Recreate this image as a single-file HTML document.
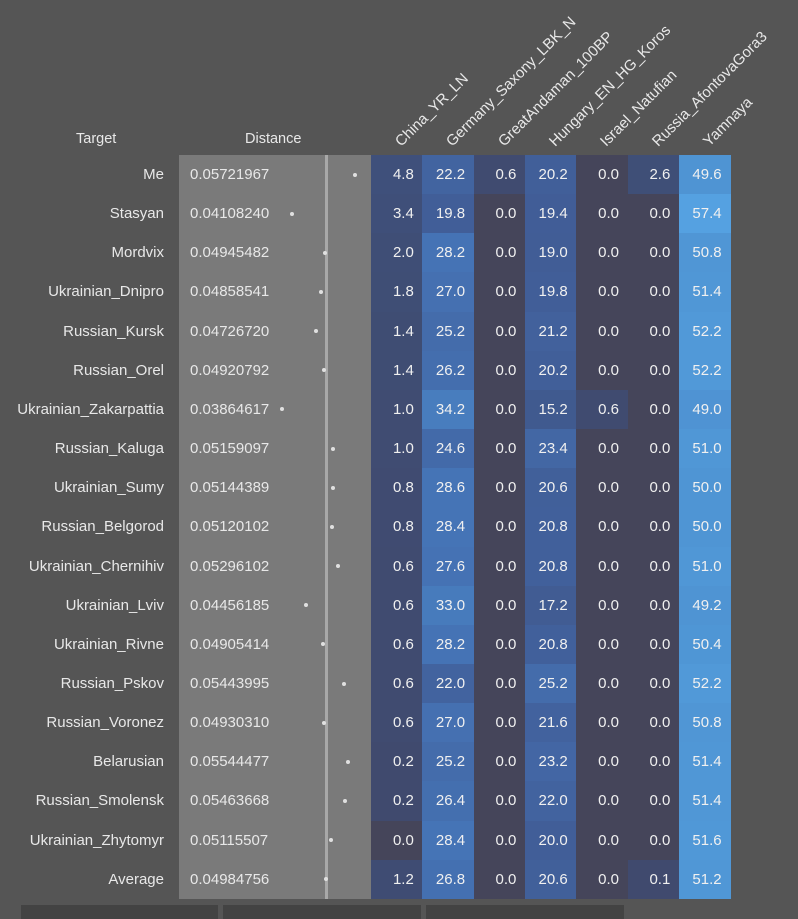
<!DOCTYPE html>
<html><head><meta charset="utf-8"><style>
body{margin:0;width:798px;height:919px;background:#555555;font-family:"Liberation Sans",sans-serif;overflow:hidden;position:relative}
.t{position:absolute;color:#e8e8e8;font-size:14.5px;white-space:nowrap}
</style></head><body>
<div id="c" style="position:absolute;left:0;top:0;width:798px;height:919px"></div>
<div style="position:absolute;left:21px;top:905px;width:197px;height:14px;background:#434343"></div>
<div style="position:absolute;left:223px;top:905px;width:198px;height:14px;background:#434343"></div>
<div style="position:absolute;left:426px;top:905px;width:198px;height:14px;background:#434343"></div>
<script>
const targets=["Me","Stasyan","Mordvix","Ukrainian_Dnipro","Russian_Kursk","Russian_Orel","Ukrainian_Zakarpattia","Russian_Kaluga","Ukrainian_Sumy","Russian_Belgorod","Ukrainian_Chernihiv","Ukrainian_Lviv","Ukrainian_Rivne","Russian_Pskov","Russian_Voronez","Belarusian","Russian_Smolensk","Ukrainian_Zhytomyr","Average"];
const distances=["0.05721967","0.04108240","0.04945482","0.04858541","0.04726720","0.04920792","0.03864617","0.05159097","0.05144389","0.05120102","0.05296102","0.04456185","0.04905414","0.05443995","0.04930310","0.05544477","0.05463668","0.05115507","0.04984756"];
const sources=["China_YR_LN","Germany_Saxony_LBK_N","GreatAndaman_100BP","Hungary_EN_HG_Koros","Israel_Natufian","Russia_AfontovaGora3","Yamnaya"];
const values=[
[4.8,22.2,0.6,20.2,0.0,2.6,49.6],
[3.4,19.8,0.0,19.4,0.0,0.0,57.4],
[2.0,28.2,0.0,19.0,0.0,0.0,50.8],
[1.8,27.0,0.0,19.8,0.0,0.0,51.4],
[1.4,25.2,0.0,21.2,0.0,0.0,52.2],
[1.4,26.2,0.0,20.2,0.0,0.0,52.2],
[1.0,34.2,0.0,15.2,0.6,0.0,49.0],
[1.0,24.6,0.0,23.4,0.0,0.0,51.0],
[0.8,28.6,0.0,20.6,0.0,0.0,50.0],
[0.8,28.4,0.0,20.8,0.0,0.0,50.0],
[0.6,27.6,0.0,20.8,0.0,0.0,51.0],
[0.6,33.0,0.0,17.2,0.0,0.0,49.2],
[0.6,28.2,0.0,20.8,0.0,0.0,50.4],
[0.6,22.0,0.0,25.2,0.0,0.0,52.2],
[0.6,27.0,0.0,21.6,0.0,0.0,50.8],
[0.2,25.2,0.0,23.2,0.0,0.0,51.4],
[0.2,26.4,0.0,22.0,0.0,0.0,51.4],
[0.0,28.4,0.0,20.0,0.0,0.0,51.6],
[1.2,26.8,0.0,20.6,0.0,0.1,51.2]];
const c=document.getElementById('c');
const top0=155,rowH=39.15,colX=371,colW=51.3;
const xd=v=>292+(v-0.04108)*3913;
const stops=[[0,[69,69,90]],[0.1,[64,74,110]],[2,[63,78,118]],[20,[65,94,152]],[28,[69,115,181]],[50,[79,149,212]],[58,[85,162,226]]];
function col(v){for(let i=1;i<stops.length;i++){if(v<=stops[i][0]){const a=stops[i-1],b=stops[i],t=(v-a[0])/(b[0]-a[0]);return 'rgb('+a[1].map((x,k)=>Math.round(x+(b[1][k]-x)*t)).join(',')+')';}}return 'rgb(85,162,226)';}
function add(tag,name,css,txt){const e=document.createElement(tag);e.style.cssText=css;if(txt!==undefined)e.textContent=txt;c.appendChild(e);return e;}
let e;
e=add('div','','left:76px;top:131px','Target');e.className='t';


e=add('div','','left:245px;top:131px','Distance');e.className='t';


e=add('div','','position:absolute;left:179px;top:155px;width:192px;height:744px;background:#7a7a7a');


e=add('div','','position:absolute;left:'+(xd(0.04984756)-1)+'px;top:155px;width:3px;height:744px;background:#a8a8a8');


sources.forEach((s,j)=>{
 const h=add('div','','position:absolute;left:'+(colX+j*colW+33)+'px;top:133px;color:#e8e8e8;font-size:15px;line-height:17px;white-space:nowrap;transform-origin:0 100%;transform:rotate(-45deg)',s);
 
 
});
targets.forEach((t,i)=>{
 const y=top0+i*rowH;
 const l=add('div','','position:absolute;right:634px;top:'+(y+11)+'px;color:#e8e8e8;font-size:15px;white-space:nowrap',t);
 
 
 const d=add('div','','position:absolute;left:190px;top:'+(y+11)+'px;color:#e8e8e8;font-size:15px',distances[i]);
 
 
 const p=add('div','','position:absolute;left:'+(xd(+distances[i])-2)+'px;top:'+(y+rowH/2-2)+'px;width:4px;height:4px;border-radius:2px;background:#e0e0e0');
 
 
 values[i].forEach((v,j)=>{
  const cell=add('div','','position:absolute;left:'+(colX+j*colW)+'px;top:'+y+'px;width:'+(colW+0.5)+'px;height:'+(rowH+0.5)+'px;background:'+col(v)+';color:#f0f0f0;font-size:15px;line-height:'+rowH+'px;text-align:right;box-sizing:border-box;padding-right:9px',v.toFixed(1));
  
  
 });
});
</script>
</body></html>
